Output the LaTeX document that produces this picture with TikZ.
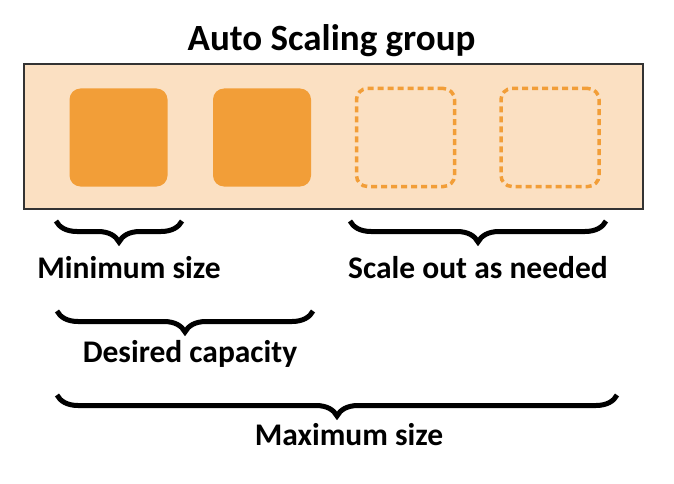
\documentclass[tikz,border=0pt]{standalone}
\usepackage{fontspec}
\setmainfont{Carlito}
\usetikzlibrary{decorations.pathreplacing}

\definecolor{groupfill}{HTML}{FBE0C2}
\definecolor{instorange}{HTML}{F29E38}
\definecolor{groupline}{HTML}{333333}

\tikzset{
  inst/.style={minimum width=98pt, minimum height=98pt, rounded corners=11pt, inner sep=0pt},
  running/.style={inst, fill=instorange},
  spare/.style={inst, draw=instorange, line width=3.5pt, dash pattern=on 6pt off 4pt},
  sizebrace/.style={decorate, decoration={brace, mirror, amplitude=21pt}, line width=5pt},
  sizelabel/.style={anchor=base, font=\fontsize{31.5}{34}\selectfont\bfseries}
}

\begin{document}
\begin{tikzpicture}[x=1pt, y=-1pt]
\useasboundingbox (0,0) rectangle (674,484);
\node[anchor=base, font=\fontsize{37}{40}\selectfont\bfseries] (title) at (331.5,51) {Auto Scaling group};
\node[draw=groupline, fill=groupfill, line width=2pt, minimum width=619pt, minimum height=145pt, inner sep=0pt] (group) at (333.5,136.5) {};
% instances
\node[running] (i1) at (118.5,137.5) {};
\node[running] (i2) at (262,137.5) {};
\node[spare] (i3) at (405.5,137.5) {};
\node[spare] (i4) at (550,137.5) {};
% braces
\coordinate (minL) at (56,221);
\coordinate (minR) at (182,221);
\coordinate (outL) at (350,221);
\coordinate (outR) at (606,221);
\coordinate (desL) at (57,311);
\coordinate (desR) at (313,311);
\coordinate (maxL) at (57,395);
\coordinate (maxR) at (617,395);
\draw[sizebrace] (minL) -- (minR);
\draw[sizebrace] (outL) -- (outR);
\draw[sizebrace] (desL) -- (desR);
\draw[sizebrace] (maxL) -- (maxR);
\node[sizelabel] (min) at (129,278.5) {Minimum size};
\node[sizelabel] (out) at (478,278.5) {Scale out as needed};
\node[sizelabel] (des) at (190,362) {Desired capacity};
\node[sizelabel] (max) at (349,445) {Maximum size};
\end{tikzpicture}
\end{document}
